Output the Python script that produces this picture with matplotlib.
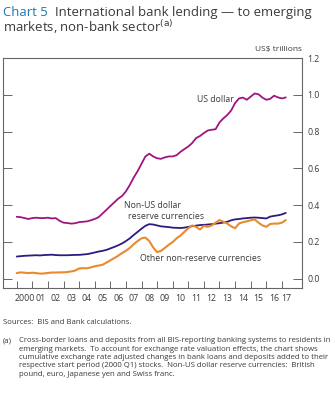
import matplotlib
matplotlib.use("Agg")
import matplotlib.pyplot as plt
import numpy as np

plt.rcParams['font.family'] = ['Open Sans', 'DejaVu Sans']

# Quarterly data, 2000 Q1 .. 2017 Q2 (US$ trillions)
start_year = 2000
us_dollar = [0.337, 0.335, 0.330, 0.325,
             0.330, 0.332, 0.330, 0.330,
             0.332, 0.328, 0.330, 0.315,
             0.305, 0.303, 0.300, 0.302,
             0.308, 0.310, 0.312, 0.318,
             0.325, 0.335, 0.355, 0.375,
             0.395, 0.415, 0.435, 0.450,
             0.475, 0.510, 0.550, 0.585,
             0.625, 0.665, 0.680, 0.665,
             0.655, 0.652, 0.660, 0.665,
             0.665, 0.672, 0.690, 0.705,
             0.719, 0.738, 0.765, 0.776,
             0.792, 0.806, 0.810, 0.813,
             0.850, 0.872, 0.890, 0.915,
             0.955, 0.980, 0.985, 0.973,
             0.990, 1.007, 1.003, 0.985,
             0.973, 0.978, 0.995, 0.986,
             0.980, 0.986]
non_us_reserve = [0.121, 0.123, 0.125, 0.126,
                  0.127, 0.128, 0.127, 0.129,
                  0.130, 0.131, 0.129, 0.128,
                  0.128, 0.128, 0.129, 0.130,
                  0.130, 0.132, 0.134, 0.138,
                  0.143, 0.148, 0.152, 0.157,
                  0.165, 0.173, 0.182, 0.192,
                  0.205, 0.220, 0.238, 0.255,
                  0.272, 0.288, 0.297, 0.295,
                  0.290, 0.285, 0.283, 0.281,
                  0.278, 0.277, 0.276, 0.278,
                  0.282, 0.286, 0.289, 0.292,
                  0.293, 0.295, 0.297, 0.300,
                  0.302, 0.306, 0.310, 0.318,
                  0.323, 0.325, 0.328, 0.330,
                  0.332, 0.333, 0.332, 0.330,
                  0.328, 0.338, 0.342, 0.345,
                  0.350, 0.358]
other_non_reserve = [0.031, 0.035, 0.033, 0.031,
                     0.033, 0.031, 0.028, 0.029,
                     0.032, 0.034, 0.034, 0.035,
                     0.035, 0.037, 0.040, 0.045,
                     0.056, 0.058, 0.057, 0.062,
                     0.068, 0.072, 0.076, 0.088,
                     0.100, 0.112, 0.125, 0.140,
                     0.152, 0.168, 0.188, 0.205,
                     0.220, 0.224, 0.205, 0.170,
                     0.145, 0.152, 0.168, 0.185,
                     0.200, 0.220, 0.235, 0.255,
                     0.275, 0.290, 0.282, 0.268,
                     0.288, 0.282, 0.290, 0.305,
                     0.319, 0.310, 0.300, 0.285,
                     0.275, 0.300, 0.308, 0.312,
                     0.318, 0.323, 0.305, 0.290,
                     0.283, 0.298, 0.300, 0.300,
                     0.305, 0.319]

year_labels = ["2000", "01", "02", "03", "04", "05", "06", "07", "08",
               "09", "10", "11", "12", "13", "14", "15", "16", "17"]
y_ticks = [0.0, 0.2, 0.4, 0.6, 0.8, 1.0, 1.2]
y_tick_labels = ["0.0", "0.2", "0.4", "0.6", "0.8", "1.0", "1.2"]

MAGENTA = "#9e1580"
NAVY = "#2b1c7e"
ORANGE = "#e98a2c"
TEAL = "#1a78b4"
TXT = "#3a3a3a"
AXC = "#666666"

t = start_year + np.arange(len(us_dollar)) * 0.25

fig = plt.figure(figsize=(3.35, 4.0), dpi=100)
ax = fig.add_axes([3/335, 1-288/400, (302-3)/335, (288-58)/400])

ax.plot(t, us_dollar, color=MAGENTA, lw=1.3, solid_capstyle='round')
ax.plot(t, non_us_reserve, color=NAVY, lw=1.3, solid_capstyle='round')
ax.plot(t, other_non_reserve, color=ORANGE, lw=1.5, solid_capstyle='round')

ax.set_xlim(1999.12, 2018.29)
ax.set_ylim(-0.05, 1.2)

for s in ax.spines.values():
    s.set_color(AXC)
    s.set_linewidth(0.8)

ax.yaxis.tick_right()
ax.set_yticks(y_ticks)
ax.set_yticklabels(y_tick_labels)
ax.tick_params(axis='y', which='major', direction='in', length=6.5, width=0.7,
               color=AXC, labelsize=6.3, labelcolor=TXT, pad=4, left=True, right=True)

years = np.arange(2000, 2018)
ax.set_xticks(years)
ax.set_xticklabels([])
label_pos = list(years[:-1] + 0.5) + [2017.3]
ax.set_xticks(label_pos, minor=True)
ax.set_xticklabels(year_labels, minor=True)
ax.tick_params(axis='x', which='major', direction='in', length=5, width=0.7, color=AXC)
ax.tick_params(axis='x', which='minor', length=0, labelsize=6.3, labelcolor=TXT, pad=4)

ax.text(2013.95, 0.975, "US dollar", ha='right', va='center', fontsize=6.3, color=TXT)
ax.text(2006.88, 0.40, "Non-US dollar", ha='left', va='center', fontsize=6.3, color=TXT)
ax.text(2007.13, 0.338, "reserve currencies", ha='left', va='center', fontsize=6.3, color=TXT)
ax.text(2007.9, 0.108, "Other non-reserve currencies", ha='left', va='center', fontsize=6.3, color=TXT)

# Title: fit line 1 to span x=3..310 px
renderer = fig.canvas.get_renderer()
title_fs = 10.0
t1 = fig.text(3/335, 1-16/400, "Chart 5", ha='left', va='baseline', fontsize=title_fs, color=TEAL)
t2 = fig.text(0, 1-16/400, "International bank lending \u2014 to emerging",
              ha='left', va='baseline', fontsize=title_fs, color=TXT)
w1 = t1.get_window_extent(renderer).width
w2 = t2.get_window_extent(renderer).width
gap = 0.55 * title_fs * 100 / 72
scale = (310 - 3) / (w1 + gap + w2)
title_fs *= scale
t1.set_fontsize(title_fs)
t2.set_fontsize(title_fs)
w1 = t1.get_window_extent(renderer).width
gap = 0.55 * title_fs * 100 / 72
t2.set_x((3 + w1 + gap) / 335)
fig.text(3/335, 1-31.5/400, "markets, non-bank sector$^{\\mathrm{(a)}}$",
         ha='left', va='baseline', fontsize=title_fs, color=TXT)

fig.text(302/335, 1-50/400, "US$ trillions", ha='right', va='center', fontsize=6.0, color=TXT)

fig.text(3/335, 1-322.7/400, "Sources:  BIS and Bank calculations.", ha='left', va='center',
         fontsize=5.6, color=TXT)

foot = ["Cross-border loans and deposits from all BIS-reporting banking systems to residents in",
        "emerging markets.  To account for exchange rate valuation effects, the chart shows",
        "cumulative exchange rate adjusted changes in bank loans and deposits added to their",
        "respective start period (2000 Q1) stocks.  Non-US dollar reserve currencies:  British",
        "pound, euro, Japanese yen and Swiss franc."]
fig.text(3/335, 1-341/400, "(a)", ha='left', va='center', fontsize=5.6, color=TXT)
for i, line in enumerate(foot):
    fig.text(19/335, 1-(341 + i*8.25)/400, line, ha='left', va='center', fontsize=5.6, color=TXT)

fig.savefig("out.png", dpi=100)
